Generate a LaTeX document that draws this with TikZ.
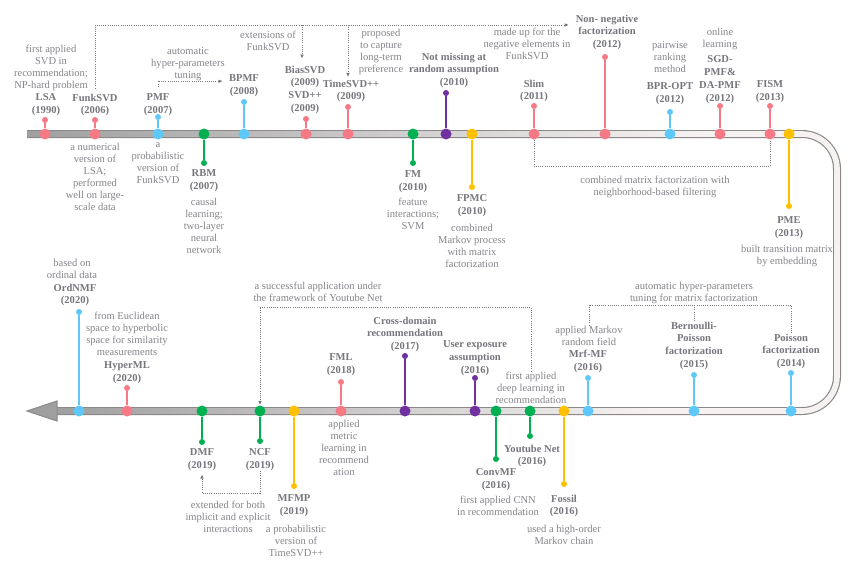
\documentclass[tikz,border=0pt]{standalone}
\usepackage{fontspec}
\setmainfont{Liberation Serif}
\usepackage{xcolor}
\usepackage{tikz}
\usetikzlibrary{arrows.meta}

\definecolor{cpink}{RGB}{245,122,134}
\definecolor{cblue}{RGB}{95,200,250}
\definecolor{cgreen}{RGB}{0,176,80}
\definecolor{cpurple}{RGB}{112,48,160}
\definecolor{cgold}{RGB}{255,192,0}
\definecolor{labelgray}{RGB}{118,118,124}
\definecolor{notegray}{RGB}{132,132,138}
\definecolor{linkgray}{RGB}{120,120,120}
\definecolor{trackline}{RGB}{140,136,136}
\definecolor{trackfill}{RGB}{246,242,242}

\begin{document}
\begin{tikzpicture}[x=0.3mm, y=-0.3mm, >={Latex[length=1.3mm,width=1.1mm]},
  every node/.style={inner sep=0pt, anchor=north, align=center},
  dot/.style={circle, anchor=center, minimum size=3.3mm},
  tipdot/.style={circle, anchor=center, minimum size=1.8mm},
  stem/.style={line width=0.5mm},
  lbl/.style={font=\fontsize{9}{11}\selectfont\bfseries, text=labelgray},
  note/.style={font=\fontsize{9}{10.3}\selectfont, text=notegray},
  link/.style={densely dotted, draw=linkgray, line width=0.3mm}]
  \useasboundingbox (0,0) rectangle (867,567);

  % track
  \draw[trackline, line width=2.4mm, rounded corners=10.5mm] (27,134) -- (837,134) -- (837,411) -- (57,411);
  \draw[trackfill, line width=1.7mm, rounded corners=10.5mm] (27.8,134) -- (837,134) -- (837,411) -- (57,411);
  \shade[left color=gray!75, right color=trackfill] (27.8,131.2) rectangle (700,136.8);
  \shade[left color=gray!75, right color=trackfill] (57,408.2) rectangle (650,413.8);
  \filldraw[fill=gray!75, draw=trackline, line width=0.3mm] (27,411) -- (57,401) -- (57,421) -- cycle;

  % upper row
  \node[dot, fill=cpink] (lsa) at (45,134) {};
  \node[tipdot, fill=cpink] (lsa-t) at (45,120) {};
  \draw[stem, cpink] (lsa) -- (lsa-t);
  \node[lbl] (lsa-l) at (46,93.5) {LSA\\(1990)};
  \node[note] (lsa-n) at (51,44.5) {first applied\\SVD in\\recommendation;\\NP-hard problem};

  \node[dot, fill=cpink] (funk) at (95,134) {};
  \node[tipdot, fill=cpink] (funk-t) at (95,120) {};
  \draw[stem, cpink] (funk) -- (funk-t);
  \node[lbl] (funk-l) at (95,93.5) {FunkSVD\\(2006)};
  \node[note] (funk-n) at (95,142.5) {a numerical\\version of\\LSA;\\performed\\well on large-\\scale data};

  \node[dot, fill=cblue] (pmf) at (158,134) {};
  \node[tipdot, fill=cblue] (pmf-t) at (158,117) {};
  \draw[stem, cblue] (pmf) -- (pmf-t);
  \node[lbl] (pmf-l) at (158,93.5) {PMF\\(2007)};
  \node[note] (pmf-n) at (158,142.5) {a\\probabilistic\\version of\\FunkSVD};

  \node[dot, fill=cgreen] (rbm) at (204,134) {};
  \node[tipdot, fill=cgreen] (rbm-t) at (204,163) {};
  \draw[stem, cgreen] (rbm) -- (rbm-t);
  \node[lbl] (rbm-l) at (204,169.5) {RBM\\(2007)};
  \node[note] (rbm-n) at (204,197.5) {causal\\learning;\\two-layer\\neural\\network};

  \node[dot, fill=cblue] (bpmf) at (244,134) {};
  \node[tipdot, fill=cblue] (bpmf-t) at (244,102) {};
  \draw[stem, cblue] (bpmf) -- (bpmf-t);
  \node[lbl] (bpmf-l) at (244,74.5) {BPMF\\(2008)};

  \node[dot, fill=cpink] (bias) at (306,134) {};
  \node[tipdot, fill=cpink] (bias-t) at (306,119) {};
  \draw[stem, cpink] (bias) -- (bias-t);
  \node[lbl] (bias-l) at (305,65.5) {BiasSVD\\(2009)\\SVD++\\(2009)};

  \node[dot, fill=cpink] (time) at (348,134) {};
  \node[tipdot, fill=cpink] (time-t) at (348,107) {};
  \draw[stem, cpink] (time) -- (time-t);
  \node[lbl] (time-l) at (351,79.5) {TimeSVD++\\(2009)};

  \node[dot, fill=cgreen] (fm) at (413,134) {};
  \node[tipdot, fill=cgreen] (fm-t) at (413,163) {};
  \draw[stem, cgreen] (fm) -- (fm-t);
  \node[lbl] (fm-l) at (413,170.5) {FM\\(2010)};
  \node[note] (fm-n) at (413,197.5) {feature\\interactions;\\SVM};

  \node[dot, fill=cpurple] (nmar) at (446,134) {};
  \node[tipdot, fill=cpurple] (nmar-t) at (446,93) {};
  \draw[stem, cpurple] (nmar) -- (nmar-t);
  \node[lbl] (nmar-l) at (454,52.5) {Not missing at\\random assumption\\(2010)};

  \node[dot, fill=cgold] (fpmc) at (472,134) {};
  \node[tipdot, fill=cgold] (fpmc-t) at (472,187) {};
  \draw[stem, cgold] (fpmc) -- (fpmc-t);
  \node[lbl] (fpmc-l) at (472,194.5) {FPMC\\(2010)};
  \node[note] (fpmc-n) at (472,224) {combined\\Markov process\\with matrix\\factorization};

  \node[dot, fill=cpink] (slim) at (534,134) {};
  \node[tipdot, fill=cpink] (slim-t) at (534,106) {};
  \draw[stem, cpink] (slim) -- (slim-t);
  \node[lbl] (slim-l) at (534,79.5) {Slim\\(2011)};

  \node[dot, fill=cpink] (nnf) at (605,134) {};
  \node[tipdot, fill=cpink] (nnf-t) at (605,57) {};
  \draw[stem, cpink] (nnf) -- (nnf-t);
  \node[lbl] (nnf-l) at (607,14.5) {Non- negative\\factorization\\(2012)};

  \node[dot, fill=cblue] (bpr) at (670,134) {};
  \node[tipdot, fill=cblue] (bpr-t) at (670,112) {};
  \draw[stem, cblue] (bpr) -- (bpr-t);
  \node[lbl] (bpr-l) at (670,82.5) {BPR-OPT\\(2012)};
  \node[note] (bpr-n) at (670,41.5) {pairwise\\ranking\\method};

  \node[dot, fill=cpink] (sgd) at (720,134) {};
  \node[tipdot, fill=cpink] (sgd-t) at (720,106) {};
  \draw[stem, cpink] (sgd) -- (sgd-t);
  \node[lbl] (sgd-l) at (720,55.5) {SGD-\\PMF\&\\DA-PMF\\(2012)};
  \node[note] (sgd-n) at (720,27.5) {online\\learning};

  \node[dot, fill=cpink] (fism) at (770,134) {};
  \node[tipdot, fill=cpink] (fism-t) at (770,106) {};
  \draw[stem, cpink] (fism) -- (fism-t);
  \node[lbl] (fism-l) at (770,80.5) {FISM\\(2013)};

  \node[dot, fill=cgold] (pme) at (789,134) {};
  \node[tipdot, fill=cgold] (pme-t) at (789,206) {};
  \draw[stem, cgold] (pme) -- (pme-t);
  \node[lbl] (pme-l) at (789,216.5) {PME\\(2013)};
  \node[note] (pme-n) at (787,244.5) {built transition matrix\\by embedding};

  % upper links
  \node[note] (tune-n) at (188,47.5) {automatic\\hyper-parameters\\tuning};
  \node[note] (ext-n) at (268,30.5) {extensions of\\FunkSVD};
  \node[note] (long-n) at (381,28.5) {proposed\\to capture\\long-term\\preference};
  \node[note] (neg-n) at (527,27.5) {made up for the\\negative elements in\\FunkSVD};
  \node[note] (nb-n) at (655,175.5) {combined matrix factorization with\\neighborhood-based filtering};
  \coordinate (nnf-in) at (569,25);
  \coordinate (ext-top) at (302,25);
  \coordinate (time-top) at (348,25);
  \coordinate (sf-mid) at (650,166);
  \draw[link,->, shorten <=1.5mm] (funk-l.north) |- (nnf-in);
  \draw[link,->, shorten >=2mm] (ext-top) -- (ext-top |- bias-l.north);
  \draw[link,->, shorten >=0.7mm] (time-top) -- (time-top |- time-l.north);
  \draw[link,->, shorten <=2mm, shorten >=1.8mm] (pmf-l.north) |- ([yshift=1.35mm]bpmf-l.west);
  \draw[link] (slim) |- (sf-mid) -| (fism);

  % lower row
  \node[dot, fill=cblue] (pois) at (791,411) {};
  \node[tipdot, fill=cblue] (pois-t) at (791,373) {};
  \draw[stem, cblue] (pois) -- (pois-t);
  \node[lbl] (pois-l) at (791,333.5) {Poisson\\factorization\\(2014)};

  \node[dot, fill=cblue] (bep) at (694,411) {};
  \node[tipdot, fill=cblue] (bep-t) at (694,375) {};
  \draw[stem, cblue] (bep) -- (bep-t);
  \node[lbl] (bep-l) at (694,321.5) {Bernoulli-\\Poisson\\factorization\\(2015)};

  \node[dot, fill=cblue] (mrf) at (588,411) {};
  \node[tipdot, fill=cblue] (mrf-t) at (588,378) {};
  \draw[stem, cblue] (mrf) -- (mrf-t);
  \node[lbl] (mrf-l) at (588,349.5) {Mrf-MF\\(2016)};
  \node[note] (mrf-n) at (589,325.5) {applied Markov\\random field};

  \node[dot, fill=cgold] (fossil) at (564,411) {};
  \node[tipdot, fill=cgold] (fossil-t) at (564,484) {};
  \draw[stem, cgold] (fossil) -- (fossil-t);
  \node[lbl] (fossil-l) at (564,494.5) {Fossil\\(2016)};
  \node[note] (fossil-n) at (564,524.5) {used a high-order\\Markov chain};

  \node[dot, fill=cgreen] (yt) at (530,411) {};
  \node[tipdot, fill=cgreen] (yt-t) at (530,436) {};
  \draw[stem, cgreen] (yt) -- (yt-t);
  \node[lbl] (yt-l) at (532,444.5) {Youtube Net\\(2016)};
  \node[note] (deep-n) at (531,371.5) {first applied\\deep learning in\\recommendation};

  \node[dot, fill=cgreen] (conv) at (496,411) {};
  \node[tipdot, fill=cgreen] (conv-t) at (496,459) {};
  \draw[stem, cgreen] (conv) -- (conv-t);
  \node[lbl] (conv-l) at (496,468.5) {ConvMF\\(2016)};
  \node[note] (conv-n) at (498,495.5) {first applied CNN\\in recommendation};

  \node[dot, fill=cpurple] (uea) at (475,411) {};
  \node[tipdot, fill=cpurple] (uea-t) at (475,378) {};
  \draw[stem, cpurple] (uea) -- (uea-t);
  \node[lbl] (uea-l) at (475,340.5) {User exposure\\assumption\\(2016)};

  \node[dot, fill=cpurple] (cross) at (405,411) {};
  \node[tipdot, fill=cpurple] (cross-t) at (405,356) {};
  \draw[stem, cpurple] (cross) -- (cross-t);
  \node[lbl] (cross-l) at (405,316.5) {Cross-domain\\recommendation\\(2017)};

  \node[dot, fill=cpink] (fml) at (341,411) {};
  \node[tipdot, fill=cpink] (fml-t) at (341,382) {};
  \draw[stem, cpink] (fml) -- (fml-t);
  \node[lbl] (fml-l) at (341,353.5) {FML\\(2018)};
  \node[note] (fml-n) at (344,419.5) {applied\\metric\\learning in\\recommend\\ation};

  \node[dot, fill=cgold] (mfmp) at (294,411) {};
  \node[tipdot, fill=cgold] (mfmp-t) at (294,486) {};
  \draw[stem, cgold] (mfmp) -- (mfmp-t);
  \node[lbl] (mfmp-l) at (294,494.5) {MFMP\\(2019)};
  \node[note] (mfmp-n) at (296,524.5) {a probabilistic\\version of\\TimeSVD++};

  \node[dot, fill=cgreen] (ncf) at (260,411) {};
  \node[tipdot, fill=cgreen] (ncf-t) at (260,441) {};
  \draw[stem, cgreen] (ncf) -- (ncf-t);
  \node[lbl] (ncf-l) at (260,448.5) {NCF\\(2019)};

  \node[dot, fill=cgreen] (dmf) at (202,411) {};
  \node[tipdot, fill=cgreen] (dmf-t) at (202,442) {};
  \draw[stem, cgreen] (dmf) -- (dmf-t);
  \node[lbl] (dmf-l) at (202,448.5) {DMF\\(2019)};
  \node[note] (dmf-n) at (228,500.5) {extended for both\\implicit and explicit\\interactions};

  \node[dot, fill=cpink] (hyp) at (127,411) {};
  \node[tipdot, fill=cpink] (hyp-t) at (127,388) {};
  \draw[stem, cpink] (hyp) -- (hyp-t);
  \node[lbl] (hyp-l) at (127,361.5) {HyperML\\(2020)};
  \node[note] (hyp-n) at (127,311.5) {from Euclidean\\space to hyperbolic\\space for similarity\\measurements};

  \node[dot, fill=cblue] (ord) at (79,411) {};
  \node[tipdot, fill=cblue] (ord-t) at (79,312) {};
  \draw[stem, cblue] (ord) -- (ord-t);
  \node[lbl] (ord-l) at (75,283.5) {OrdNMF\\(2020)};
  \node[note] (ord-n) at (72,258.5) {based on\\ordinal data};

  % lower links
  \node[note] (hp-n) at (694,281.5) {automatic hyper-parameters\\tuning for matrix factorization};
  \node[note] (ytf-n) at (318,281.5) {a successful application under\\the framework of Youtube Net};
  \coordinate (hp-mid) at (694,305);
  \coordinate (yt-bend) at (260,307);
  \coordinate (nd-bend) at (230,493);
  \draw[link] (mrf-n.north) |- (hp-mid) -| (pois-l.north);
  \draw[link] (hp-mid) -- (bep-l.north);
  \draw[link,->] (deep-n.north) |- (yt-bend) -- (ncf);
  \draw[link,->, shorten >=1mm] (ncf-l.south) |- (nd-bend) -| (dmf-l.south);
\end{tikzpicture}
\end{document}
